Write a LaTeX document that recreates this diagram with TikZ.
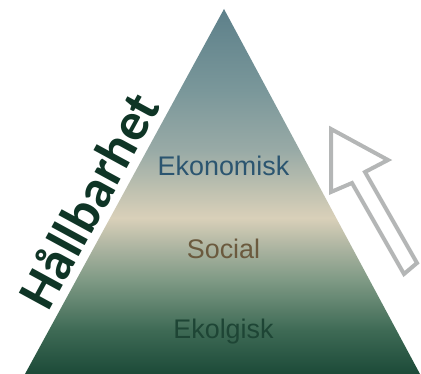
\documentclass[tikz,border=0pt]{standalone}
\usepackage{fontspec}
\setmainfont{Liberation Sans}
\newfontfamily\sidefont{Carlito}

\definecolor{ekonomiblue}{HTML}{2B5570}
\definecolor{socialbrown}{HTML}{6B5A3E}
\definecolor{ekologgreen}{HTML}{1E4535}
\definecolor{sidegreen}{HTML}{0F3526}
\definecolor{arrowgray}{HTML}{B4B6B6}
% pyramid gradient, bottom to top
\definecolor{shadeA}{HTML}{1C4A38}
\definecolor{shadeB}{HTML}{3E6A55}
\definecolor{shadeC}{HTML}{7F9A85}
\definecolor{shadeD}{HTML}{A9B29F}
\definecolor{shadeE}{HTML}{D9D0B9}
\definecolor{shadeF}{HTML}{BFC1B0}
\definecolor{shadeG}{HTML}{98AAA6}
\definecolor{shadeH}{HTML}{7A979A}
\definecolor{shadeI}{HTML}{5D808A}

\pgfdeclareverticalshading{pyramidfill}{100bp}{%
  color(0bp)=(shadeA); color(25bp)=(shadeA);
  color(31bp)=(shadeB); color(37.9bp)=(shadeC);
  color(42bp)=(shadeD); color(46.4bp)=(shadeE);
  color(50.2bp)=(shadeF); color(55.7bp)=(shadeG);
  color(63.9bp)=(shadeH); color(75bp)=(shadeI);
  color(100bp)=(shadeI)}

\begin{document}
\begin{tikzpicture}[x=1bp, y=1bp,
  level/.style={font=\fontsize{27}{30}\selectfont, inner sep=0pt, anchor=base},
  hollowarrow/.style={draw=arrowgray, line width=4bp, line join=miter}]
    \useasboundingbox (0,0) rectangle (421,374);

    % Pyramid
    \path (25,0) coordinate (bl) (420,0) coordinate (br) (224,365) coordinate (apex);
    \shade[shading=pyramidfill] (bl) -- (br) -- (apex) -- cycle;

    % Levels
    \node[level, text=ekonomiblue] (ekonomisk) at (223.5, 199) {Ekonomisk};
    \node[level, text=socialbrown] (social) at (223.5, 116) {Social};
    \node[level, text=ekologgreen] (ekolgisk) at (223.5, 36) {Ekolgisk};

    % Side title
    \node[inner sep=0pt, anchor=base, rotate=61.4, text=sidegreen,
          font=\sidefont\bfseries\fontsize{54}{60}\selectfont]
          (hallbarhet) at (105, 164.5) {Hållbarhet};

    % Arrow
    \draw[hollowarrow] (331,245) -- (388,214) -- (365,202) -- (417,111)
      -- (404,100) -- (352,191) -- (331,182) -- cycle;
\end{tikzpicture}
\end{document}
